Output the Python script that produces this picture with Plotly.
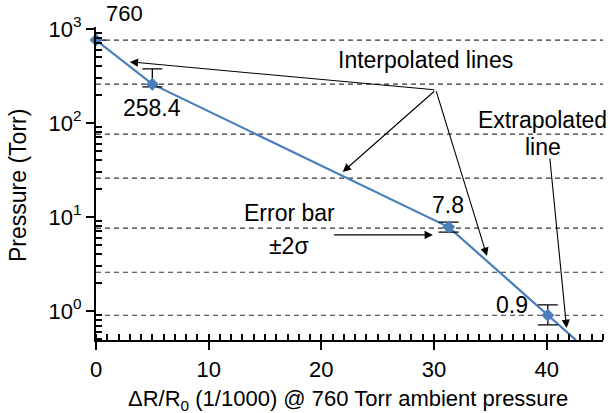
import plotly.graph_objects as go

# ---- data ----
pts_x = [0, 5, 31.3, 40.1]
pts_y = [760, 258.4, 7.8, 0.9]
err_plus = [0, 117, 1.0, 0.26]
err_minus = [0, 17, 0.9, 0.19]

line_x = [0, 5, 31.3, 40.1, 42.6]
line_y = [760, 258.4, 7.8, 0.9, 0.49]

ref_levels = [760, 258.4, 76, 25.84, 7.6, 2.584, 0.9]

y_ticks = [1, 10, 100, 1000]
y_ticktext = ["10<sup>0</sup>", "10<sup>1</sup>", "10<sup>2</sup>", "10<sup>3</sup>"]

X_RANGE = [0, 45]
Y_RANGE = [-0.309, 3.02]

y_minor = [m * 10 ** e for e in range(-1, 3) for m in range(2, 10)]

FONT = "Liberation Sans, Arial, sans-serif"
BLUE = "#4a7ebb"

fig = go.Figure()

for lv in ref_levels:
    fig.add_trace(go.Scatter(
        x=X_RANGE, y=[lv, lv], mode="lines",
        line=dict(color="#333333", width=1.1, dash="5px,4px"),
        hoverinfo="skip", showlegend=False))

fig.add_trace(go.Scatter(
    x=line_x, y=line_y, mode="lines",
    line=dict(color=BLUE, width=2.2), showlegend=False))

fig.add_trace(go.Scatter(
    x=pts_x, y=pts_y, mode="markers",
    marker=dict(symbol="diamond", size=10, color=BLUE),
    error_y=dict(type="data", symmetric=False, array=err_plus,
                 arrayminus=err_minus, color="black", thickness=1.3, width=10),
    showlegend=False, cliponaxis=False))

anns = []
def txt(t, x, ylog, size=23):
    anns.append(dict(text=t, x=x, y=ylog, xref="x", yref="y", showarrow=False,
                     font=dict(size=size, color="black", family=FONT),
                     xanchor="center", yanchor="middle"))

txt("258.4", 4.97, 2.160)
txt("Interpolated lines", 29.27, 2.670)
txt("Extrapolated", 39.65, 2.032)
txt("line", 39.65, 1.745)
txt("Error bar", 17.2, 1.043)
txt("±2σ", 17.1, 0.691)
txt("7.8", 31.2, 1.128)
txt("0.9", 36.9, 0.064)

anns.append(dict(text="760", x=(124 - 96) / 507, y=(340 - 13) / 313, xref="paper", yref="paper",
                 showarrow=False, xanchor="center", yanchor="middle",
                 font=dict(size=22, color="black", family=FONT)))

def arrow(hx, hy, tx, ty):
    anns.append(dict(text="", x=hx, y=hy, ax=tx, ay=ty, xref="x", yref="y",
                     axref="x", ayref="y", showarrow=True, arrowhead=2,
                     arrowsize=1.5, arrowwidth=1.1, arrowcolor="black"))

apex = (30.16, 2.351)
arrow(3.0, 2.649, *apex)
arrow(21.9, 1.479, *apex)
arrow(34.7, 0.585, *apex)
arrow(41.77, -0.181, 40.27, 1.638)
arrow(29.9, 0.809, 21.0, 0.809)

anns.append(dict(text="Pressure (Torr)", x=-0.154, y=0.495, xref="paper", yref="paper",
                 textangle=-90, showarrow=False, xanchor="center", yanchor="middle",
                 font=dict(size=23, color="black", family=FONT)))
anns.append(dict(text="ΔR/R<sub>0</sub> (1/1000) @ 760 Torr ambient pressure",
                 x=0.497, y=-0.192, xref="paper", yref="paper",
                 showarrow=False, xanchor="center", yanchor="middle",
                 font=dict(size=22, color="black", family=FONT)))

fig.update_layout(
    width=612, height=413,
    margin=dict(l=96, r=9, t=27, b=73),
    paper_bgcolor="white", plot_bgcolor="white",
    font=dict(family=FONT, color="black"),
    annotations=anns,
    xaxis=dict(range=X_RANGE, tick0=0, dtick=10, showgrid=False, zeroline=False,
               showline=True, linecolor="black", linewidth=2.2,
               ticks="outside", ticklen=8, tickwidth=2, tickcolor="black",
               tickfont=dict(size=22, family=FONT, color="black"),
               minor=dict(tick0=0, dtick=1, ticks="inside", ticklen=6,
                          tickwidth=1.7, tickcolor="black")),
    yaxis=dict(type="log", range=Y_RANGE, tickmode="array", tickvals=y_ticks, ticktext=y_ticktext,
               showgrid=False, zeroline=False,
               showline=True, linecolor="black", linewidth=2.2,
               ticks="outside", ticklen=8, tickwidth=2, tickcolor="black",
               tickfont=dict(size=22, family=FONT, color="black"),
               minor=dict(tickmode="array", tickvals=y_minor, ticks="inside", ticklen=6,
                          tickwidth=1.7, tickcolor="black")),
)

fig.write_html("out.html")
